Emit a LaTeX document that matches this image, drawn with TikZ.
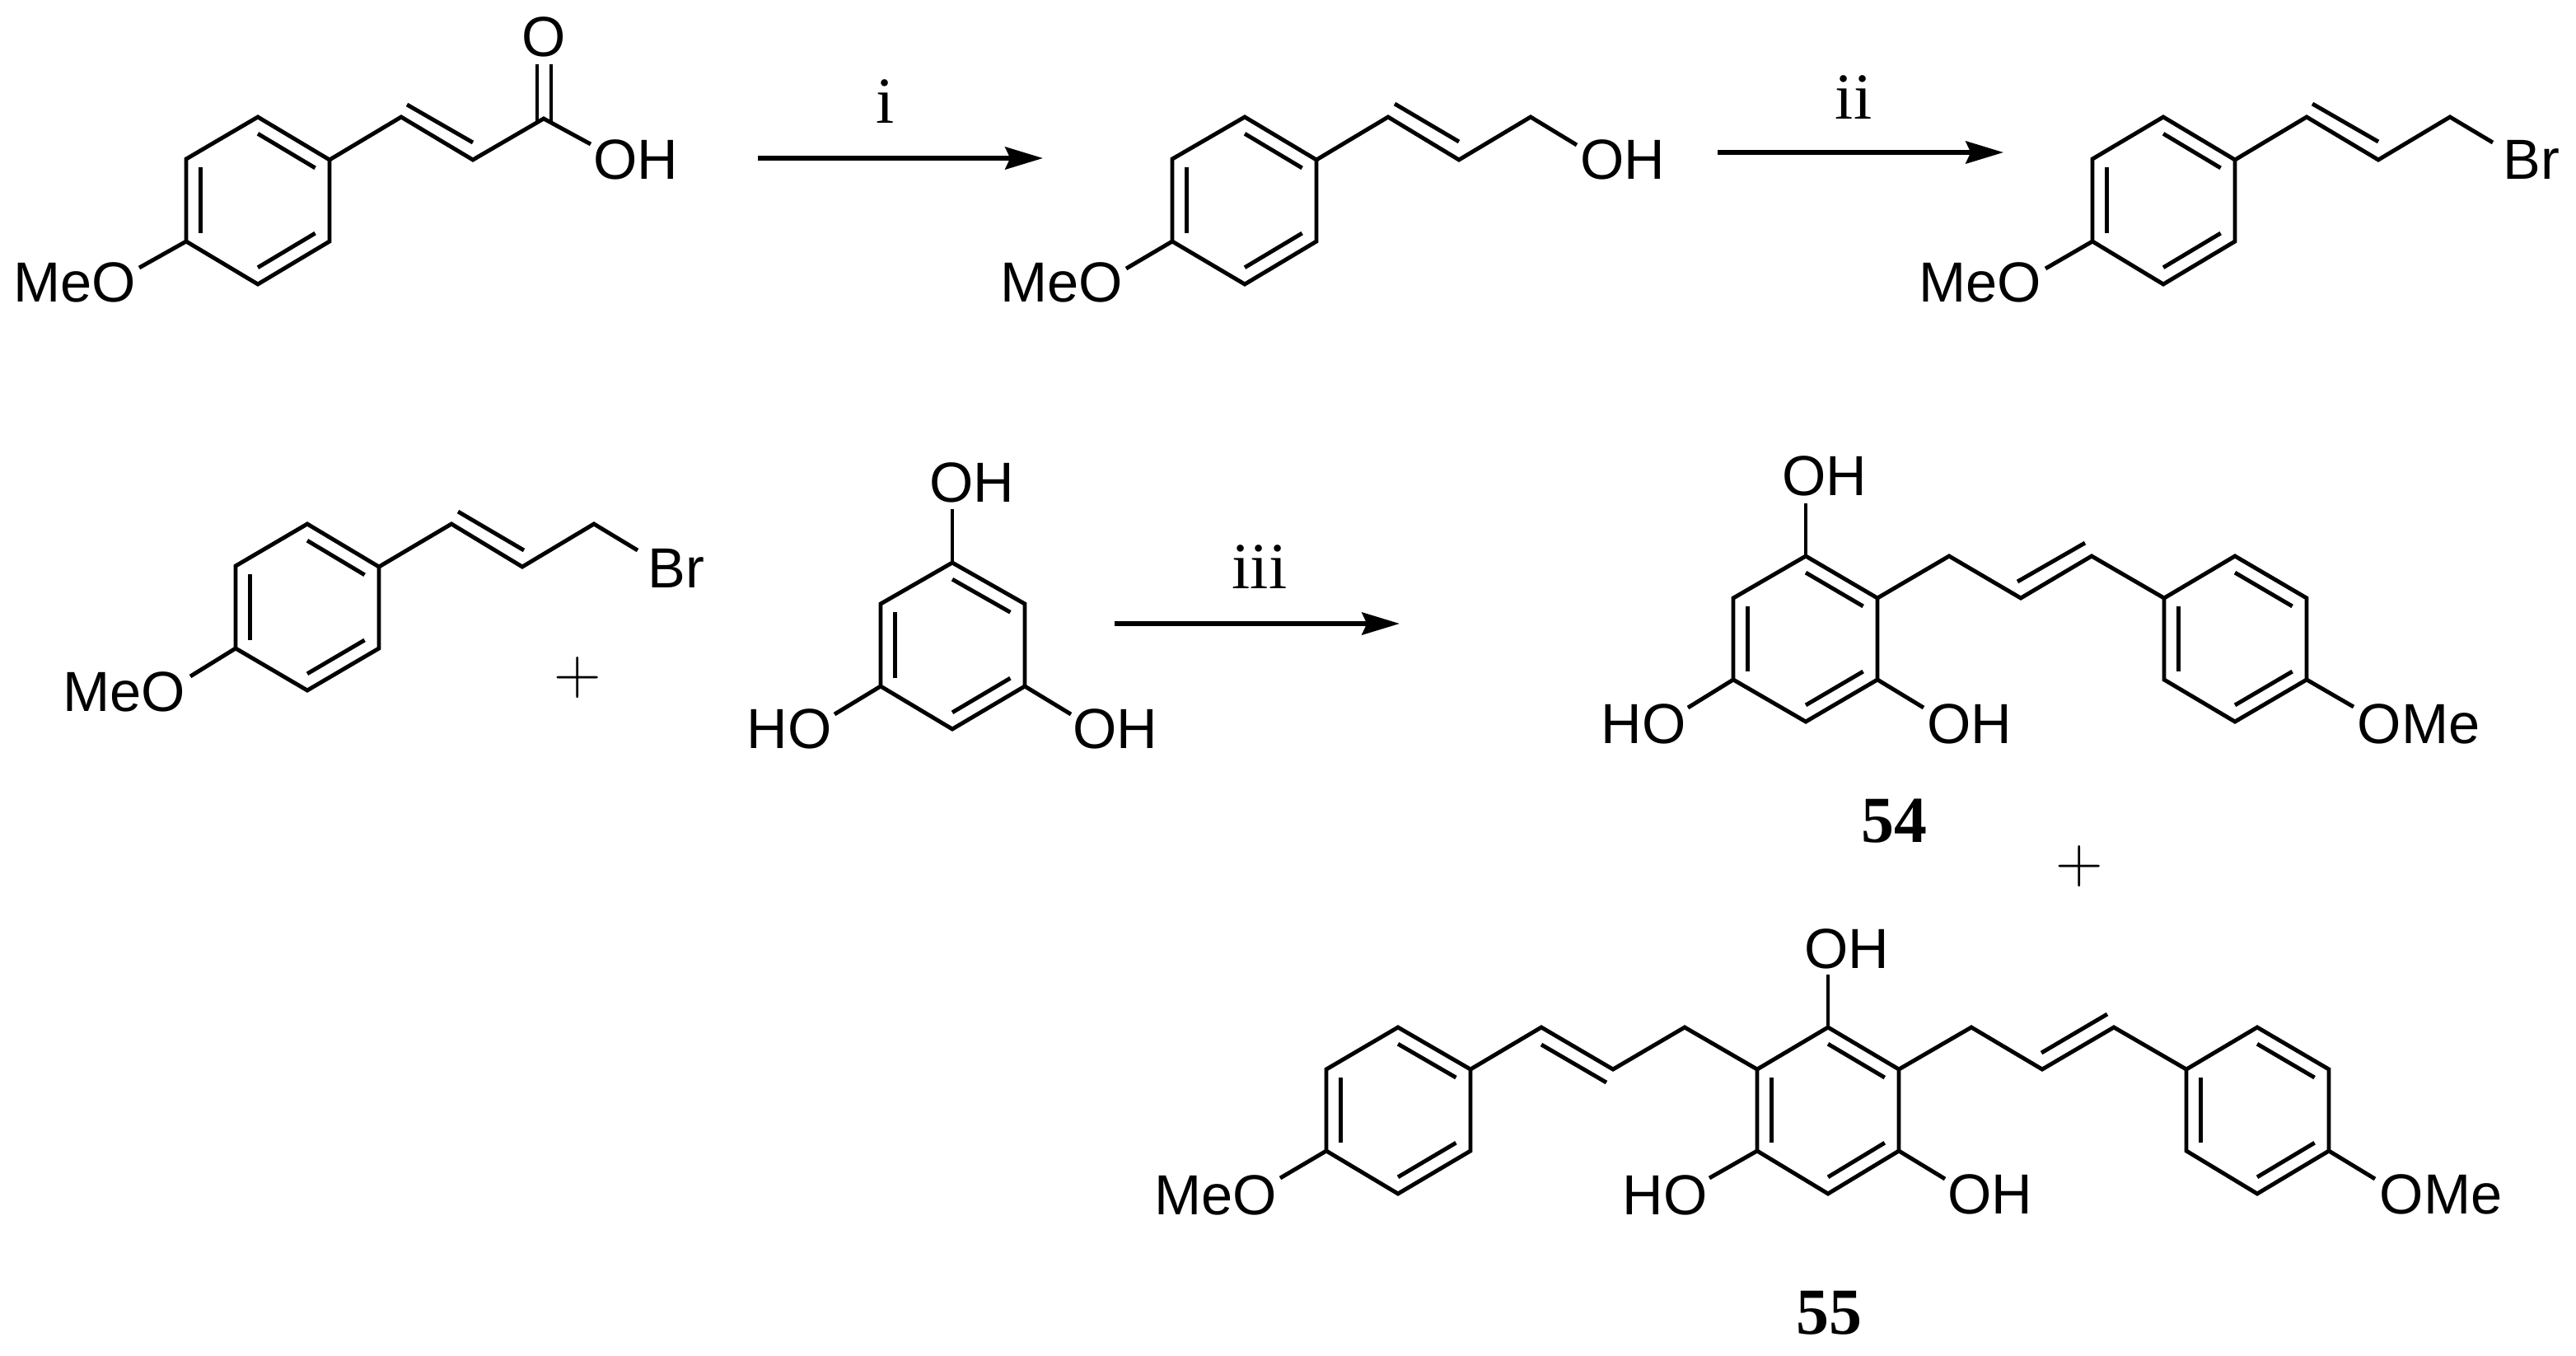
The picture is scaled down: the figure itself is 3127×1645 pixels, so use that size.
\documentclass[tikz,border=0pt]{standalone}
\usepackage{fix-cm}
\usepackage{fontspec}
\setmainfont{Liberation Sans}
\newfontfamily\serifchem{Liberation Serif}
\usetikzlibrary{arrows.meta,calc}
\tikzset{
  bond/.style={line width=1.4pt},
  react/.style={line width=1.6pt,-{Stealth[length=13pt,width=7.7pt,inset=1.7pt]}},
  atom/.style={inner sep=0pt,yshift=-0.035cm,font=\fontsize{19.5pt}{20pt}\selectfont},
  reagent/.style={inner sep=0pt,font=\serifchem\fontsize{22.7pt}{24pt}\selectfont},
  cmpd/.style={inner sep=0pt,yshift=-0.03cm,font=\serifchem\bfseries\fontsize{22.7pt}{24pt}\selectfont},
  plussign/.style={inner sep=0pt,font=\fontsize{22.7pt}{24pt}\selectfont}
}
\begin{document}
\begin{tikzpicture}[x=0.01cm,y=-0.01cm]
\useasboundingbox (0,0) rectangle (3127,1645);
% acid
\coordinate (a1) at (313,142); \coordinate (a2) at (400,194); \coordinate (a3) at (400,293);
\coordinate (a4) at (313,345); \coordinate (a5) at (226,293); \coordinate (a6) at (226,193);
\coordinate (ac) at (313,243.5);
\coordinate (a7) at (487,142); \coordinate (a8) at (574,194); \coordinate (a9) at (660,144);
\coordinate (a7d) at (494,127); \coordinate (a8d) at (574,173);
\coordinate (aOa) at (652,78); \coordinate (aOb) at (652,149); \coordinate (aOc) at (669,78); \coordinate (aOd) at (669,149);
\coordinate (aOH) at (717,175); \coordinate (aOMe) at (169,325);
\node[atom] (aoxo) at (660,41) {O};
\node[atom] (ahyd) at (772,190) {OH};
\node[atom] (ameo) at (91,339) {MeO};
\draw[bond] (a1) -- (a2) -- (a3) -- (a4) -- (a5) -- (a6) -- cycle;
\draw[bond] ($(ac)!.8!(a1)$) -- ($(ac)!.8!(a2)$);
\draw[bond] ($(ac)!.8!(a3)$) -- ($(ac)!.8!(a4)$);
\draw[bond] ($(ac)!.8!(a5)$) -- ($(ac)!.8!(a6)$);
\draw[bond] (a2) -- (a7) -- (a8) -- (a9) -- (aOH);
\draw[bond] (a7d) -- (a8d);
\draw[bond] (aOa) -- (aOb);
\draw[bond] (aOc) -- (aOd);
\draw[bond] (a5) -- (aOMe);
% step i
\coordinate (ia) at (920,192); \coordinate (ib) at (1266,192);
\draw[react] (ia) -- (ib);
\node[reagent] (ilab) at (1075,123) {i};
% alcohol
\coordinate (b1) at (1511,142); \coordinate (b2) at (1598,194); \coordinate (b3) at (1598,293);
\coordinate (b4) at (1511,345); \coordinate (b5) at (1423,293); \coordinate (b6) at (1423,193);
\coordinate (bc) at (1511,243.5);
\coordinate (b7) at (1685,142); \coordinate (b8) at (1771,194); \coordinate (b9) at (1858,142);
\coordinate (b7d) at (1693,126); \coordinate (b8d) at (1771,172);
\coordinate (bOH) at (1914,176); \coordinate (bOMe) at (1367,326);
\node[atom] (bhyd) at (1970,190) {OH};
\node[atom] (bmeo) at (1289,339) {MeO};
\draw[bond] (b1) -- (b2) -- (b3) -- (b4) -- (b5) -- (b6) -- cycle;
\draw[bond] ($(bc)!.8!(b1)$) -- ($(bc)!.8!(b2)$);
\draw[bond] ($(bc)!.8!(b3)$) -- ($(bc)!.8!(b4)$);
\draw[bond] ($(bc)!.8!(b5)$) -- ($(bc)!.8!(b6)$);
\draw[bond] (b2) -- (b7) -- (b8) -- (b9) -- (bOH);
\draw[bond] (b7d) -- (b8d);
\draw[bond] (b5) -- (bOMe);
% step ii
\coordinate (iia) at (2085,185); \coordinate (iib) at (2432,185);
\draw[react] (iia) -- (iib);
\node[reagent] (iilab) at (2250,118) {ii};
% bromide
\coordinate (c1) at (2626,142); \coordinate (c2) at (2713,194); \coordinate (c3) at (2713,293);
\coordinate (c4) at (2626,345); \coordinate (c5) at (2540,293); \coordinate (c6) at (2540,193);
\coordinate (cc) at (2626,243.5);
\coordinate (c7) at (2800,142); \coordinate (c8) at (2887,194); \coordinate (c9) at (2974,142);
\coordinate (c7d) at (2807,126); \coordinate (c8d) at (2887,172);
\coordinate (cBr) at (3026,173); \coordinate (cOMe) at (2483,326);
\node[atom] (cbrm) at (3073,190) {Br};
\node[atom] (cmeo) at (2404,339) {MeO};
\draw[bond] (c1) -- (c2) -- (c3) -- (c4) -- (c5) -- (c6) -- cycle;
\draw[bond] ($(cc)!.8!(c1)$) -- ($(cc)!.8!(c2)$);
\draw[bond] ($(cc)!.8!(c3)$) -- ($(cc)!.8!(c4)$);
\draw[bond] ($(cc)!.8!(c5)$) -- ($(cc)!.8!(c6)$);
\draw[bond] (c2) -- (c7) -- (c8) -- (c9) -- (cBr);
\draw[bond] (c7d) -- (c8d);
\draw[bond] (c5) -- (cOMe);
% bromide again
\coordinate (d1) at (373,636); \coordinate (d2) at (460,688); \coordinate (d3) at (460,787);
\coordinate (d4) at (373,838); \coordinate (d5) at (286,787); \coordinate (d6) at (286,687);
\coordinate (dc) at (373,737);
\coordinate (d7) at (548,636); \coordinate (d8) at (634,688); \coordinate (d9) at (721,636);
\coordinate (d7d) at (556,621); \coordinate (d8d) at (636,668);
\coordinate (dBr) at (774,668); \coordinate (dOMe) at (231,821);
\node[atom] (dbrm) at (821,686) {Br};
\node[atom] (dmeo) at (151,836) {MeO};
\node[plussign] (plusa) at (701,823) {$+$};
\draw[bond] (d1) -- (d2) -- (d3) -- (d4) -- (d5) -- (d6) -- cycle;
\draw[bond] ($(dc)!.8!(d1)$) -- ($(dc)!.8!(d2)$);
\draw[bond] ($(dc)!.8!(d3)$) -- ($(dc)!.8!(d4)$);
\draw[bond] ($(dc)!.8!(d5)$) -- ($(dc)!.8!(d6)$);
\draw[bond] (d2) -- (d7) -- (d8) -- (d9) -- (dBr);
\draw[bond] (d7d) -- (d8d);
\draw[bond] (d5) -- (dOMe);
% phloroglucinol
\coordinate (e1) at (1156,683); \coordinate (e2) at (1244,733); \coordinate (e3) at (1244,833);
\coordinate (e4) at (1156,885); \coordinate (e5) at (1069,833); \coordinate (e6) at (1069,733);
\coordinate (ec) at (1156,784);
\coordinate (eOHa) at (1156,618); \coordinate (eOHb) at (1013,867); \coordinate (eOHc) at (1300,867);
\node[atom] (ehyda) at (1180,582) {OH};
\node[atom] (ehydb) at (958,881) {HO};
\node[atom] (ehydc) at (1354,881) {OH};
\draw[bond] (e1) -- (e2) -- (e3) -- (e4) -- (e5) -- (e6) -- cycle;
\draw[bond] ($(ec)!.8!(e1)$) -- ($(ec)!.8!(e2)$);
\draw[bond] ($(ec)!.8!(e3)$) -- ($(ec)!.8!(e4)$);
\draw[bond] ($(ec)!.8!(e5)$) -- ($(ec)!.8!(e6)$);
\draw[bond] (e1) -- (eOHa);
\draw[bond] (e5) -- (eOHb);
\draw[bond] (e3) -- (eOHc);
% step iii
\coordinate (iiia) at (1353,757); \coordinate (iiib) at (1699,757);
\draw[react] (iiia) -- (iiib);
\node[reagent] (iiilab) at (1529,688) {iii};
% 54
\coordinate (f1) at (2192,675); \coordinate (f2) at (2279,726); \coordinate (f3) at (2279,825);
\coordinate (f4) at (2192,876); \coordinate (f5) at (2104,825); \coordinate (f6) at (2104,726);
\coordinate (fc) at (2192,775.5);
\coordinate (f7) at (2366,675); \coordinate (f8) at (2453,726); \coordinate (f9) at (2539,675);
\coordinate (f8d) at (2449,706); \coordinate (f9d) at (2531,659);
\coordinate (g1) at (2713,675); \coordinate (g2) at (2800,726); \coordinate (g3) at (2800,825);
\coordinate (g4) at (2713,876); \coordinate (g5) at (2627,825); \coordinate (g6) at (2627,726);
\coordinate (gc) at (2713,775.5);
\coordinate (fOHa) at (2192,611); \coordinate (fOHb) at (2049,859); \coordinate (fOHc) at (2335,859);
\coordinate (gOMe) at (2857,858);
\node[atom] (fhyda) at (2215,574) {OH};
\node[atom] (fhydb) at (1995,875) {HO};
\node[atom] (fhydc) at (2391,875) {OH};
\node[atom] (gome) at (2936,875) {OMe};
\node[cmpd] (lab54) at (2299,994) {54};
\node[plussign] (plusb) at (2524,1052) {$+$};
\draw[bond] (f1) -- (f2) -- (f3) -- (f4) -- (f5) -- (f6) -- cycle;
\draw[bond] ($(fc)!.8!(f1)$) -- ($(fc)!.8!(f2)$);
\draw[bond] ($(fc)!.8!(f3)$) -- ($(fc)!.8!(f4)$);
\draw[bond] ($(fc)!.8!(f5)$) -- ($(fc)!.8!(f6)$);
\draw[bond] (g1) -- (g2) -- (g3) -- (g4) -- (g5) -- (g6) -- cycle;
\draw[bond] ($(gc)!.8!(g1)$) -- ($(gc)!.8!(g2)$);
\draw[bond] ($(gc)!.8!(g3)$) -- ($(gc)!.8!(g4)$);
\draw[bond] ($(gc)!.8!(g5)$) -- ($(gc)!.8!(g6)$);
\draw[bond] (f2) -- (f7) -- (f8) -- (f9) -- (g6);
\draw[bond] (f8d) -- (f9d);
\draw[bond] (f1) -- (fOHa);
\draw[bond] (f5) -- (fOHb);
\draw[bond] (f3) -- (fOHc);
\draw[bond] (g3) -- (gOMe);
% 55
\coordinate (h1) at (1697,1247); \coordinate (h2) at (1785,1298); \coordinate (h3) at (1785,1397);
\coordinate (h4) at (1697,1449); \coordinate (h5) at (1610,1397); \coordinate (h6) at (1610,1298);
\coordinate (hc) at (1697,1348);
\coordinate (h7) at (1871,1247); \coordinate (h8) at (1958,1298); \coordinate (h9) at (2045,1247);
\coordinate (h7d) at (1871,1268); \coordinate (h8d) at (1950,1314);
\coordinate (j1) at (2219,1247); \coordinate (j2) at (2305,1298); \coordinate (j3) at (2305,1397);
\coordinate (j4) at (2219,1449); \coordinate (j5) at (2133,1397); \coordinate (j6) at (2133,1298);
\coordinate (jc) at (2219,1348);
\coordinate (j7) at (2393,1247); \coordinate (j8) at (2479,1298); \coordinate (j9) at (2566,1247);
\coordinate (j8d) at (2478,1278); \coordinate (j9d) at (2558,1231);
\coordinate (k1) at (2740,1247); \coordinate (k2) at (2827,1298); \coordinate (k3) at (2827,1397);
\coordinate (k4) at (2740,1449); \coordinate (k5) at (2654,1397); \coordinate (k6) at (2654,1298);
\coordinate (kc) at (2740,1348);
\coordinate (hOMe) at (1554,1430); \coordinate (jOHa) at (2219,1183);
\coordinate (jOHb) at (2075,1430); \coordinate (jOHc) at (2361,1431); \coordinate (kOMe) at (2883,1431);
\node[atom] (hmeo) at (1476,1447) {MeO};
\node[atom] (jhyda) at (2242,1148) {OH};
\node[atom] (jhydb) at (2021,1447) {HO};
\node[atom] (jhydc) at (2416,1446) {OH};
\node[atom] (kome) at (2963,1446) {OMe};
\node[cmpd] (lab55) at (2220,1591) {55};
\draw[bond] (h1) -- (h2) -- (h3) -- (h4) -- (h5) -- (h6) -- cycle;
\draw[bond] ($(hc)!.8!(h1)$) -- ($(hc)!.8!(h2)$);
\draw[bond] ($(hc)!.8!(h3)$) -- ($(hc)!.8!(h4)$);
\draw[bond] ($(hc)!.8!(h5)$) -- ($(hc)!.8!(h6)$);
\draw[bond] (j1) -- (j2) -- (j3) -- (j4) -- (j5) -- (j6) -- cycle;
\draw[bond] ($(jc)!.8!(j1)$) -- ($(jc)!.8!(j2)$);
\draw[bond] ($(jc)!.8!(j3)$) -- ($(jc)!.8!(j4)$);
\draw[bond] ($(jc)!.8!(j5)$) -- ($(jc)!.8!(j6)$);
\draw[bond] (k1) -- (k2) -- (k3) -- (k4) -- (k5) -- (k6) -- cycle;
\draw[bond] ($(kc)!.8!(k1)$) -- ($(kc)!.8!(k2)$);
\draw[bond] ($(kc)!.8!(k3)$) -- ($(kc)!.8!(k4)$);
\draw[bond] ($(kc)!.8!(k5)$) -- ($(kc)!.8!(k6)$);
\draw[bond] (h2) -- (h7) -- (h8) -- (h9) -- (j6);
\draw[bond] (j2) -- (j7) -- (j8) -- (j9) -- (k6);
\draw[bond] (h7d) -- (h8d);
\draw[bond] (j8d) -- (j9d);
\draw[bond] (h5) -- (hOMe);
\draw[bond] (j1) -- (jOHa);
\draw[bond] (j5) -- (jOHb);
\draw[bond] (j3) -- (jOHc);
\draw[bond] (k3) -- (kOMe);
\end{tikzpicture}
\end{document}
